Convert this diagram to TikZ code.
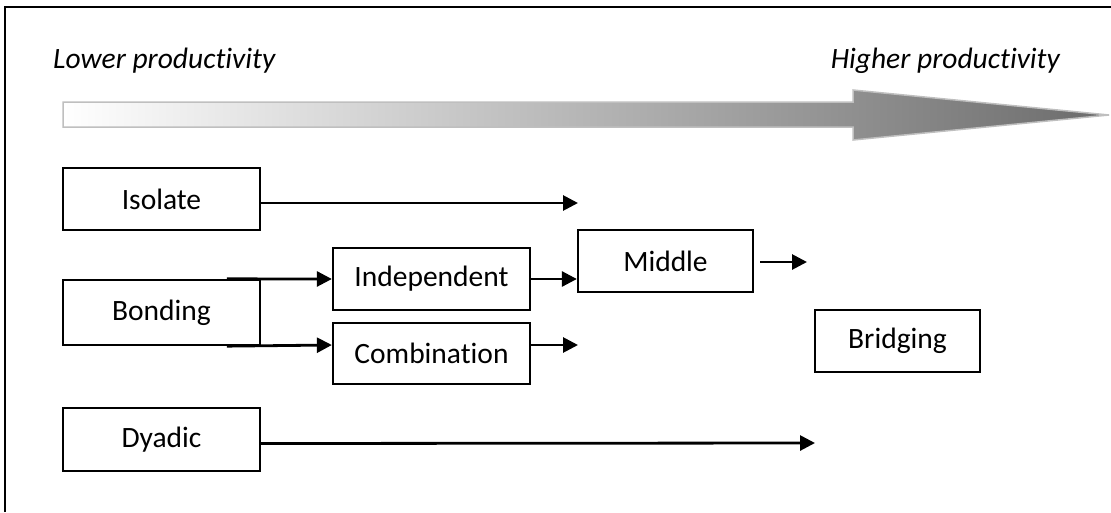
\documentclass[tikz,border=0pt]{standalone}
\usepackage{fontspec}
\setmainfont{Carlito}[Ligatures={NoCommon}]
\usetikzlibrary{arrows.meta}
\tikzset{
  box/.style={draw=black, line width=2.3pt, fill=white, inner sep=0pt, anchor=center,
    font=\fontsize{29.5}{35}\selectfont},
  conn/.style={line width=2.8pt, -{Triangle[length=15pt,width=15pt]}},
  lbl/.style={font=\fontsize{29.5}{35}\selectfont\itshape, inner sep=0pt},
  frame/.style={line width=2.2pt}
}
\begin{document}
\begin{tikzpicture}[x=1pt,y=-1pt]
\useasboundingbox (0,0) rectangle (1111,512);
% frame
\draw[frame] (5,512) -- (5,7) -- (1111,7);
% labels
\node[lbl, anchor=west] (low) at (53,61) {Lower productivity};
\node[lbl, anchor=east] (high) at (1060,61) {Higher productivity};
% big gradient arrow
\shade[left color=white, right color=black!58, draw=black!25, line width=1.5pt]
  (63,102) -- (853,102) -- (853,90) -- (1109,115) -- (853,140) -- (853,127) -- (63,127) -- cycle;
% boxes
\node[box, minimum width=197pt, minimum height=62pt] (iso) at (161.5,199) {Isolate};
\node[box, minimum width=197pt, minimum height=65pt] (bond) at (161.5,312.5) {Bonding};
\node[box, minimum width=197pt, minimum height=62pt] (ind) at (431.5,279) {Independent};
\node[box, minimum width=197pt, minimum height=61pt] (comb) at (431.5,353.5) {Combination};
\node[box, minimum width=175pt, minimum height=62pt] (mid) at (665.5,261) {Middle};
\node[box, minimum width=165pt, minimum height=62pt] (bridge) at (897.5,341) {Bridging};
\node[box, minimum width=197pt, minimum height=63pt] (dya) at (161.5,439.5) {Dyadic};
% free ends
\coordinate (isoEnd) at (578,203);
\coordinate (combEnd) at (578,345);
\coordinate (midEnd) at (807,262);
\coordinate (dyaEnd) at (815,443);
% connectors
\draw[conn] ([yshift=-4pt]iso.east) -- (isoEnd);
\draw[conn] ([xshift=165pt]bond.north west) -- (ind.west);
\draw[conn] ([xshift=165pt]bond.south west) -- ([yshift=8.5pt]comb.west);
\draw[conn] (ind.east) -- (ind.east -| mid.west);
\draw[conn] ([yshift=8.5pt]comb.east) -- (combEnd);
\draw[conn] ([xshift=6pt]mid.east |- midEnd) -- (midEnd);
\draw[conn] ([yshift=-4pt]dya.east) -- (dyaEnd);
\end{tikzpicture}
\end{document}
